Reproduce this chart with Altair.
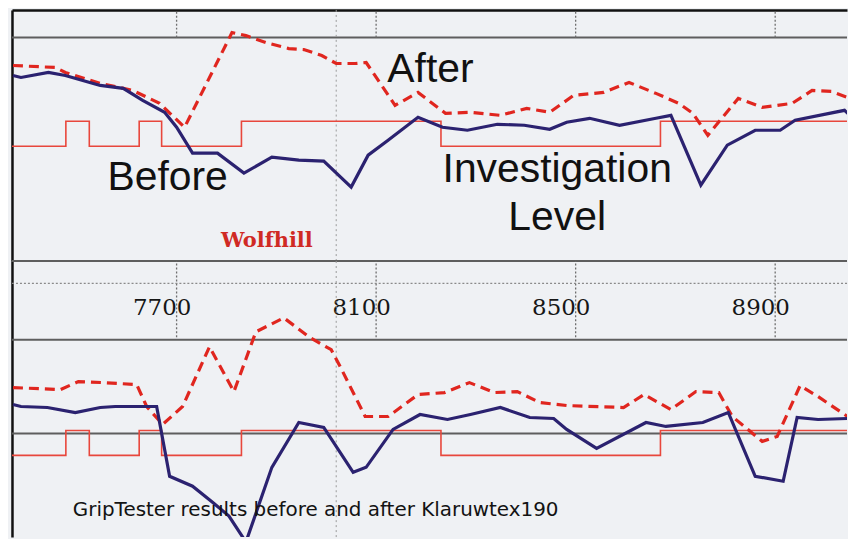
import altair as alt
import pandas as pd

# ---------------- data ----------------
KM_DOMAIN = [7370, 9044]
TICK_KM = [7700, 8100, 8500, 8900]
MARKER_KM = [8020]

# investigation level (same sites in both runs)
IL_KM = [7370, 7478, 7525, 7625, 7670, 7830, 8230, 8670, 9050]
IL_GN = [0.45, 0.50, 0.45, 0.50, 0.45, 0.50, 0.45, 0.50, 0.50]

# top run (Wolfhill)
TOP_BEFORE_KM = [7372, 7388, 7443, 7477, 7533, 7547, 7593, 7632, 7676, 7700, 7732, 7782,
                 7835, 7891, 7945, 7995, 8050, 8084, 8124, 8184, 8233, 8283, 8343, 8397,
                 8448, 8482, 8528, 8588, 8661, 8691, 8751, 8804, 8860, 8910, 8940, 9039, 9050]
TOP_BEFORE_GN = [0.592, 0.588, 0.598, 0.592, 0.576, 0.572, 0.566, 0.542, 0.518, 0.488, 0.436,
                 0.436, 0.396, 0.428, 0.422, 0.420, 0.368, 0.432, 0.462, 0.508, 0.488, 0.482,
                 0.494, 0.492, 0.484, 0.498, 0.506, 0.492, 0.506, 0.512, 0.372, 0.452, 0.482,
                 0.482, 0.502, 0.522, 0.512]
TOP_AFTER_KM = [7372, 7457, 7477, 7547, 7612, 7666, 7716, 7811, 7839, 7879, 7925, 7955, 7991,
                8020, 8058, 8080, 8138, 8184, 8239, 8289, 8349, 8402, 8448, 8496, 8556, 8607,
                8661, 8707, 8735, 8765, 8826, 8874, 8934, 8974, 9013, 9045]
TOP_AFTER_GN = [0.612, 0.608, 0.598, 0.576, 0.562, 0.536, 0.488, 0.678, 0.672, 0.658, 0.646,
                0.644, 0.632, 0.616, 0.616, 0.618, 0.532, 0.558, 0.516, 0.518, 0.512, 0.526,
                0.518, 0.552, 0.558, 0.578, 0.556, 0.536, 0.516, 0.472, 0.546, 0.528, 0.536,
                0.562, 0.560, 0.548]

# bottom run
BOT_BEFORE_KM = [7372, 7388, 7441, 7497, 7547, 7577, 7660, 7686, 7732, 7772, 7805, 7839, 7891,
                 7945, 7995, 8054, 8080, 8134, 8188, 8243, 8289, 8349, 8408, 8456, 8482, 8542,
                 8641, 8681, 8755, 8806, 8860, 8916, 8944, 8986, 9045]
BOT_BEFORE_GN = [0.552, 0.548, 0.546, 0.536, 0.546, 0.548, 0.548, 0.408, 0.388, 0.356, 0.328,
                 0.276, 0.426, 0.516, 0.506, 0.416, 0.426, 0.502, 0.532, 0.522, 0.532, 0.546,
                 0.526, 0.524, 0.502, 0.464, 0.516, 0.508, 0.516, 0.536, 0.408, 0.398, 0.526,
                 0.522, 0.524]
BOT_AFTER_KM = [7372, 7467, 7503, 7553, 7620, 7640, 7672, 7712, 7766, 7815, 7859, 7915, 7965,
                8010, 8028, 8078, 8124, 8184, 8237, 8287, 8337, 8383, 8428, 8482, 8596, 8637,
                8691, 8741, 8787, 8814, 8874, 8904, 8950, 8986, 9045]
BOT_AFTER_GN = [0.586, 0.582, 0.598, 0.596, 0.592, 0.548, 0.512, 0.548, 0.668, 0.578, 0.698,
                0.726, 0.688, 0.662, 0.628, 0.528, 0.528, 0.572, 0.576, 0.596, 0.576, 0.578,
                0.556, 0.550, 0.546, 0.572, 0.542, 0.578, 0.576, 0.528, 0.478, 0.488, 0.590,
                0.568, 0.528]

TOP_DOMAIN = [0.2195, 0.7235]
BOT_DOMAIN = [0.286, 0.84]
TOP_REF = [0.668]
BOT_REF = [0.84, 0.682, 0.494]
TOP_STRIP = [0.668, 0.7235]     # dotted distance ticks above the top reference line
BAND_STRIP = [0.687, 0.84]      # dotted distance ticks in the label band
BAND_DOTTED = [0.795]           # dotted horizontal line in the label band

BIG_LABELS = ["After", "Before", "Investigation", "Level"]
BIG_KM = [8209, 7682, 8463, 8463]
BIG_GN = [0.578, 0.362, 0.378, 0.282]
SITE_LABEL = ["Wolfhill"]
SITE_KM = [7881]
SITE_GN = [0.248]
CAPTION = ["GripTester results before and after Klaruwtex190"]
CAPTION_KM = [7492]
CAPTION_GN = [0.328]

# ---------------- layout / style ----------------
W = 838
H_TOP, H_BOT = 252, 277
NAVY = "#2b2270"
RED = "#e0261f"
IL_RED = "#e8473c"
GRAY = "#5e5e5e"
DOT = "#6f6f6f"

x_scale = alt.Scale(domain=KM_DOMAIN, nice=False, zero=False)

left_axis = alt.Axis(orient="left", labels=False, ticks=False, grid=False, domain=True,
                     domainColor="#111111", domainWidth=2.5, title=None)
top_x_axis = alt.Axis(orient="top", labels=False, ticks=False, grid=False, domain=True,
                      domainColor="#111111", domainWidth=2.5, title=None)
band_axis = alt.Axis(orient="top", values=TICK_KM, format="d", offset=-54, labelPadding=0,
                     ticks=False, domain=False, grid=False, labelFont="DejaVu Serif",
                     labelFontSize=23, labelColor="#161616", labelOffset=-15,
                     labelBaseline="alphabetic", labelFlush=False, labelOverlap=False,
                     title=None)


def panel(before_km, before_gn, after_km, after_gn, domain, refs, strip, height, x_axis, extra):
    def X():
        return alt.X("km:Q", scale=x_scale, axis=x_axis)

    Y = alt.Y("gn:Q", scale=alt.Scale(domain=domain, nice=False, zero=False), axis=left_axis)
    refs_layer = alt.Chart(pd.DataFrame({"gn": refs})).mark_rule(
        color=GRAY, strokeWidth=2).encode(y=Y)
    strip_layer = alt.Chart(pd.DataFrame({"km": TICK_KM})).mark_rule(
        color=DOT, strokeWidth=1.3, strokeDash=[2, 2]).encode(
        x=X(), y=alt.datum(strip[0]), y2=alt.datum(strip[1]))
    marker = alt.Chart(pd.DataFrame({"km": MARKER_KM})).mark_rule(
        color="#9a9a9a", strokeWidth=1, strokeDash=[2, 3]).encode(x=X())
    il = alt.Chart(pd.DataFrame({"km": IL_KM, "gn": IL_GN})).mark_line(
        interpolate="step-after", color=IL_RED, strokeWidth=1.6, clip=True).encode(x=X(), y=Y)
    after = alt.Chart(pd.DataFrame({"km": after_km, "gn": after_gn})).mark_line(
        color=RED, strokeWidth=3.2, strokeDash=[10, 6], clip=True).encode(x=X(), y=Y)
    before = alt.Chart(pd.DataFrame({"km": before_km, "gn": before_gn})).mark_line(
        color=NAVY, strokeWidth=3.2, clip=True).encode(x=X(), y=Y)
    layers = [refs_layer, strip_layer, marker, il, after, before] + [e(X, Y) for e in extra]
    return alt.layer(*layers).properties(width=W, height=height)


def big(X, Y):
    return alt.Chart(pd.DataFrame({"text": BIG_LABELS, "km": BIG_KM, "gn": BIG_GN})).mark_text(
        align="center", baseline="alphabetic", font="Liberation Sans", fontSize=41,
        color="#111111").encode(x=X(), y=Y, text="text:N")


def site(X, Y):
    return alt.Chart(pd.DataFrame({"text": SITE_LABEL, "km": SITE_KM, "gn": SITE_GN})).mark_text(
        align="center", baseline="alphabetic", font="DejaVu Serif", fontSize=21,
        fontWeight="bold", color="#d02a24").encode(x=X(), y=Y, text="text:N")


def band_dotted(X, Y):
    return alt.Chart(pd.DataFrame({"gn": BAND_DOTTED})).mark_rule(
        color="#8a8a8a", strokeWidth=1.2, strokeDash=[2, 2]).encode(y=Y)


def caption(X, Y):
    return alt.Chart(pd.DataFrame({"text": CAPTION, "km": CAPTION_KM, "gn": CAPTION_GN})).mark_text(
        align="left", baseline="alphabetic", font="DejaVu Sans", fontSize=20,
        color="#131313").encode(x=X(), y=Y, text="text:N")


top = panel(TOP_BEFORE_KM, TOP_BEFORE_GN, TOP_AFTER_KM, TOP_AFTER_GN, TOP_DOMAIN, TOP_REF,
            TOP_STRIP, H_TOP, top_x_axis, [big, site])
bottom = panel(BOT_BEFORE_KM, BOT_BEFORE_GN, BOT_AFTER_KM, BOT_AFTER_GN, BOT_DOMAIN, BOT_REF,
               BAND_STRIP, H_BOT, band_axis, [band_dotted, caption])

chart = alt.vconcat(top, bottom, spacing=0, bounds="flush").resolve_scale(
    x="independent", y="independent"
).properties(
    background="#eff1f4",
    padding={"left": 3, "top": 0, "right": 0, "bottom": 0},
).configure_view(strokeWidth=0)

chart.save("out.html", embed_options={"renderer": "svg", "actions": False})
